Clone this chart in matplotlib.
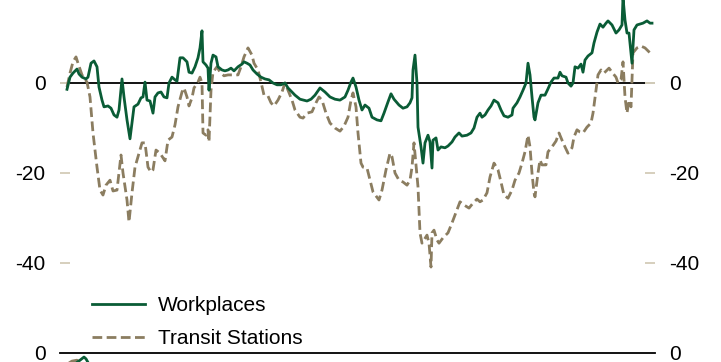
import numpy as np
import matplotlib
matplotlib.use("Agg")
import matplotlib.pyplot as plt

plt.rcParams['font.family'] = ['Liberation Sans', 'DejaVu Sans']
plt.rcParams['axes.unicode_minus'] = False

# days since start of the series, % change vs baseline
work_days = [0, 3, 6, 10, 12, 15, 19, 21, 24, 27, 30, 32, 35, 37, 41, 44, 47, 50, 52, 55,
             57, 60, 63, 65, 67, 71, 74, 76, 78, 80, 83, 86, 88, 91, 94, 97, 100, 102, 105, 108,
             110, 113, 116, 120, 122, 125, 128, 131, 133, 135, 136, 139, 141, 142, 144, 146, 149, 151, 155, 158,
             161, 164, 167, 171, 175, 177, 180, 183, 186, 190, 194, 198, 202, 206, 210, 214, 218, 221, 225, 228,
             233, 240, 244, 248, 253, 258, 263, 268, 273, 278, 281, 284, 286, 289, 292, 295, 298, 302, 305, 310,
             314, 317, 321, 324, 327, 332, 336, 340, 343, 345, 346, 348, 350, 351, 354, 356, 358, 361, 363, 365,
             366, 369, 371, 374, 378, 381, 385, 388, 392, 395, 400, 404, 407, 410, 413, 415, 418, 421, 424, 427,
             431, 434, 437, 441, 445, 446, 450, 453, 456, 459, 461, 463, 465, 467, 468, 471, 474, 478, 481, 484,
             487, 491, 493, 495, 499, 501, 504, 506, 508, 511, 514, 516, 518, 521, 525, 527, 530, 533, 536, 539,
             541, 545, 549, 552, 555, 556, 558, 560, 562, 565, 567, 570, 573, 576, 580, 583, 585]
work_vals = [-1.4, 1.3, 2.2, 3.1, 2.0, 1.3, 0.9, 1.3, 4.4, 4.9, 3.6, -0.9, -3.8, -5.3, -5.1, -5.6, -7.1, -7.6, -6.0, 0.9,
             -3.1, -8.2, -12.4, -8.9, -5.3, -4.7, -3.3, -3.1, 0.2, -3.8, -4.0, -6.7, -3.1, -2.2, -2.0, -3.1, -3.3, 0.0, 1.3, 0.7,
             0.4, 5.6, 5.6, 4.7, 2.4, 2.2, 3.6, 5.6, 7.8, 11.6, 4.7, 4.0, 3.3, -1.6, 4.4, 6.2, 5.8, 3.6, 2.9, 2.7,
             2.9, 3.3, 2.7, 3.6, 4.2, 4.7, 4.4, 4.0, 2.9, 2.0, 1.3, 0.9, 0.7, 0.0, -0.4, -0.4, 0.0, -1.1, -2.0, -2.7,
             -3.6, -4.0, -3.6, -2.7, -1.1, -2.0, -3.1, -3.6, -3.8, -3.1, -1.6, 0.2, 1.1, -0.9, -3.8, -6.0, -4.9, -5.6, -7.6, -8.2,
             -8.4, -6.7, -4.2, -2.4, -3.6, -4.9, -5.6, -5.3, -4.4, -3.3, 2.9, 6.2, 0.0, -9.8, -14.2, -17.8, -13.3, -11.6, -13.1, -18.9,
             -12.7, -12.2, -14.9, -14.2, -14.4, -14.0, -13.1, -12.0, -11.1, -11.8, -11.6, -11.1, -10.0, -7.6, -6.7, -7.6, -7.1, -6.0, -5.1, -3.8,
             -4.4, -6.0, -7.3, -7.6, -7.1, -5.6, -4.4, -3.1, -1.6, 0.0, 4.4, 1.8, -3.1, -7.6, -8.2, -4.4, -2.7, -2.7, -1.3, 0.2,
             1.1, 1.1, 2.4, 1.6, 1.3, 0.0, -0.7, 0.0, 3.6, 3.3, 4.2, 2.4, 5.1, 6.0, 6.7, 8.9, 11.3, 13.1, 12.4, 13.3,
             13.8, 12.9, 11.1, 11.8, 12.9, 19.0, 14.0, 11.1, 11.1, 4.4, 11.8, 12.9, 13.1, 13.3, 13.8, 13.3, 13.3]

transit_days = [0, 3, 6, 9, 11, 15, 20, 23, 26, 30, 33, 36, 39, 43, 46, 50, 54, 56, 60, 62,
                65, 68, 71, 75, 78, 81, 84, 86, 89, 93, 98, 101, 105, 108, 111, 115, 117, 120, 122, 125,
                127, 131, 133, 135, 136, 139, 141, 142, 144, 146, 150, 153, 157, 161, 166, 171, 174, 177, 181, 185,
                187, 191, 194, 197, 201, 204, 207, 211, 215, 218, 221, 225, 228, 233, 236, 240, 245, 249, 252, 255,
                259, 263, 268, 273, 277, 281, 284, 286, 289, 291, 294, 296, 300, 303, 306, 312, 315, 319, 323, 325,
                328, 332, 336, 340, 343, 345, 347, 351, 353, 355, 357, 360, 362, 364, 365, 367, 370, 372, 376, 381,
                385, 390, 393, 397, 402, 406, 410, 413, 416, 420, 423, 427, 431, 434, 437, 441, 445, 448, 452, 455,
                458, 461, 463, 465, 467, 468, 471, 473, 475, 479, 481, 485, 489, 492, 495, 498, 501, 505, 507, 510,
                513, 516, 520, 524, 526, 529, 531, 534, 537, 542, 545, 549, 551, 554, 556, 558, 560, 562, 564, 565,
                566, 570, 574, 578, 583, 585]
transit_vals = [-0.9, 2.2, 4.7, 5.8, 4.4, 1.8, 0.2, -3.1, -11.1, -18.7, -23.8, -24.9, -22.7, -21.6, -24.0, -23.8, -16.0, -20.0, -26.0, -30.9,
                -24.4, -18.7, -16.4, -13.3, -13.3, -18.7, -19.8, -19.3, -14.9, -15.6, -17.3, -12.7, -12.0, -9.3, -5.3, -2.0, -1.1, -3.1, -5.1, -3.3,
                -1.1, 0.2, 1.3, 0.0, -11.1, -11.6, -10.4, -13.1, -1.6, 2.4, 3.6, 2.4, 1.6, 1.8, 1.8, 1.8, 3.6, 5.8, 7.8, 6.2,
                4.4, 2.9, 0.2, -2.7, -2.9, -4.4, -5.1, -3.8, -2.0, 0.0, -1.6, -3.8, -6.0, -7.6, -7.8, -6.7, -6.4, -4.4, -3.1, -3.8,
                -6.7, -8.9, -10.0, -10.7, -9.6, -7.6, -3.8, -2.2, -5.3, -11.1, -17.8, -18.7, -18.9, -21.6, -24.2, -26.0, -23.8, -19.3, -15.6, -16.4,
                -20.0, -21.6, -22.0, -22.7, -21.6, -18.7, -13.3, -23.1, -33.3, -35.6, -34.9, -33.8, -35.6, -40.9, -33.3, -32.7, -34.9, -35.6, -34.4, -33.3,
                -31.1, -28.2, -26.4, -27.1, -27.8, -26.7, -25.8, -26.4, -26.0, -24.4, -20.9, -17.8, -19.3, -22.0, -24.9, -25.6, -23.8, -21.6, -20.0, -17.8,
                -15.3, -11.6, -14.2, -20.0, -24.4, -25.3, -20.0, -17.1, -18.2, -18.2, -15.3, -14.2, -12.9, -11.1, -12.7, -14.2, -15.6, -14.4, -12.0, -10.4,
                -10.9, -11.1, -9.8, -8.9, -6.7, -1.6, 1.8, 2.9, 2.2, 3.3, 2.4, 1.3, 0.0, 0.7, 4.7, -3.1, -6.7, -3.8, -5.3, 0.7,
                6.7, 7.8, 8.2, 7.8, 6.7, 6.2]

# start of the lower panel (only its top edge is in view)
lower_work_days = [0, 8, 13, 17, 19, 22, 26]
lower_work_vals = [-3.0, -2.4, -1.6, -0.9, -1.3, -2.5, -4.0]
lower_transit_days = [0, 5, 10, 14, 18]
lower_transit_vals = [-2.5, -1.8, -1.6, -2.2, -3.0]

green = '#0a5c36'
tan = '#8b7d60'
tick_col = '#d6cfbd'
lw = 2.0
dash = (0, (3.5, 1.6))

fig = plt.figure(figsize=(7.21, 3.62), dpi=100)
W, H = 721, 362
x0, x1 = 60 / W, 655 / W
zero_px, px_per = 83, 4.5
top_val = zero_px / px_per
bot_px = 353

ax = fig.add_axes([x0, 1 - bot_px / H, x1 - x0, bot_px / H])
ax.set_ylim(-(bot_px - zero_px) / px_per, top_val)
ax.set_xlim(-7, 588)
ax.axhline(0, color='black', lw=1.3, zorder=1)
ax.plot(work_days, work_vals, color=green, lw=lw, label='Workplaces', zorder=3)
ax.plot(transit_days, transit_vals, color=tan, lw=lw, ls=dash, label='Transit Stations', zorder=2)

ax.set_yticks([0, -20, -40])
ax.set_yticklabels(['0', '-20', '-40'])
ax.tick_params(axis='y', direction='in', length=7.2, width=1.4, color=tick_col,
               labelsize=15, pad=10.5, left=True, right=True, labelleft=True, labelright=True)
ax.tick_params(axis='x', bottom=False, labelbottom=False)
for s in ax.spines.values():
    s.set_visible(False)

leg = ax.legend(loc='upper left', bbox_to_anchor=(92 / W, 1 - 296 / H), bbox_transform=fig.transFigure,
                frameon=False, fontsize=15, handlelength=2.55, handletextpad=0.62, labelspacing=0.68,
                borderpad=0, borderaxespad=0)

# lower panel, cut off by the figure edge
ax2 = fig.add_axes([x0, -0.5, x1 - x0, 0.5 + 1 - bot_px / H])
h2 = (0.5 + 1 - bot_px / H) * H
ax2.set_ylim(-h2 / px_per, 0)
ax2.set_xlim(-7, 588)
ax2.axhline(0, color='black', lw=1.3, zorder=1, clip_on=False)
ax2.plot(lower_work_days, lower_work_vals, color=green, lw=lw, zorder=3)
ax2.plot(lower_transit_days, lower_transit_vals, color=tan, lw=lw, ls=dash, zorder=2)
ax2.set_yticks([0])
ax2.set_yticklabels(['0'])
ax2.tick_params(axis='y', direction='in', length=0, labelsize=15, pad=10.5,
                left=True, right=True, labelleft=True, labelright=True)
ax2.tick_params(axis='x', bottom=False, labelbottom=False)
for s in ax2.spines.values():
    s.set_visible(False)

fig.savefig('out.png', dpi=100)
